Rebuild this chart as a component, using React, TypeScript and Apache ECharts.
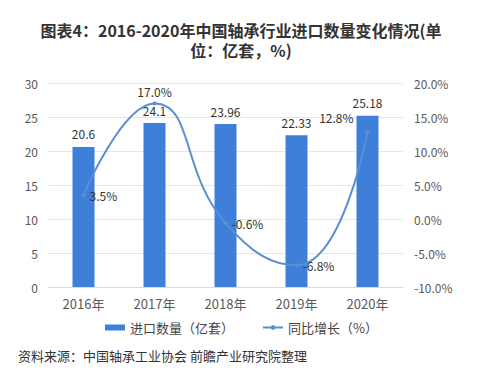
import React, { useEffect, useRef } from "react";
import * as echarts from "echarts";

const categories = ["2016年", "2017年", "2018年", "2019年", "2020年"];
const importVolume = [20.6, 24.1, 23.96, 22.33, 25.18];
const yoyGrowth = [3.5, 17.0, -0.6, -6.8, 12.8];
const lineLabelPositions: any[] = ["right", "top", "right", "right", "insideBottomRight"];

export default function App() {
  const ref = useRef<HTMLDivElement>(null);
  useEffect(() => {
    if (!ref.current) return;
    const chart = echarts.init(ref.current, null, { renderer: "svg" });
    const font = "'Noto Sans CJK SC', 'Noto Sans', sans-serif";
    chart.setOption({
      animation: false,
      backgroundColor: "#ffffff",
      textStyle: { fontFamily: font },
      grid: { left: 48, right: 80, top: 83, bottom: 84 },
      legend: {
        bottom: 32,
        left: "center",
        itemGap: 28,
        itemWidth: 20,
        itemHeight: 6,
        textStyle: { fontSize: 13, color: "#444", fontFamily: font },
        data: [
          { name: "进口数量（亿套）", icon: "rect" },
          { name: "同比增长（%）" },
        ],
      },
      graphic: [
        {
          type: "text",
          x: 241,
          y: 22,
          style: {
            text: "图表4：2016-2020年中国轴承行业进口数量变化情况(单",
            fontSize: 16,
            fontWeight: "bold",
            fill: "#333",
            lineHeight: 16,
            align: "center",
            verticalAlign: "top",
            fontFamily: font,
          },
        },
        {
          type: "text",
          x: 241,
          y: 42,
          style: {
            text: "位：亿套，%)",
            fontSize: 16,
            fontWeight: "bold",
            fill: "#333",
            lineHeight: 16,
            align: "center",
            verticalAlign: "top",
            fontFamily: font,
          },
        },
        {
          type: "text",
          left: 18,
          top: 349,
          style: { text: "资料来源：中国轴承工业协会 前瞻产业研究院整理", fontSize: 13, fill: "#333", fontFamily: font },
        },
      ],
      xAxis: {
        type: "category",
        data: categories,
        axisLine: { lineStyle: { color: "#d9d9d9" } },
        axisTick: { show: false },
        axisLabel: { fontSize: 13, color: "#595959", margin: 10 },
      },
      yAxis: [
        {
          type: "value",
          min: 0,
          max: 30,
          interval: 5,
          axisLine: { show: false },
          axisTick: { show: false },
          axisLabel: { fontSize: 12, color: "#595959", margin: 10 },
          splitLine: { lineStyle: { color: "#e6e6e6" } },
        },
        {
          type: "value",
          min: -10,
          max: 20,
          interval: 5,
          axisLine: { show: false },
          axisTick: { show: false },
          axisLabel: {
            fontSize: 12,
            color: "#595959",
            margin: 11,
            formatter: (v: number) => v.toFixed(1) + "%",
          },
          splitLine: { show: false },
        },
      ],
      series: [
        {
          name: "进口数量（亿套）",
          type: "bar",
          data: importVolume,
          barWidth: 22,
          itemStyle: { color: "#3d7fd9" },
          label: { show: true, position: "top", distance: 7, fontSize: 12, color: "#333" },
        },
        {
          name: "同比增长（%）",
          type: "line",
          yAxisIndex: 1,
          smooth: 0.5,
          symbol: "circle",
          symbolSize: 4,
          showSymbol: true,
          lineStyle: { color: "#5a8fd1", width: 2 },
          itemStyle: { color: "#5a8fd1" },
          data: yoyGrowth.map((v, i) => ({
            value: v,
            label: {
              show: true,
              position: lineLabelPositions[i],
              distance: 4,
              offset: i === 4 ? [-12, -6] : [0, 0],
              fontSize: 12,
              color: "#333",
              formatter: (p: any) => Number(p.value).toFixed(1) + "%",
            },
          })),
        },
      ],
    });
    return () => chart.dispose();
  }, []);
  return <div ref={ref} style={{ width: 483, height: 371, position: "absolute", left: 0, top: 0 }} />;
}
